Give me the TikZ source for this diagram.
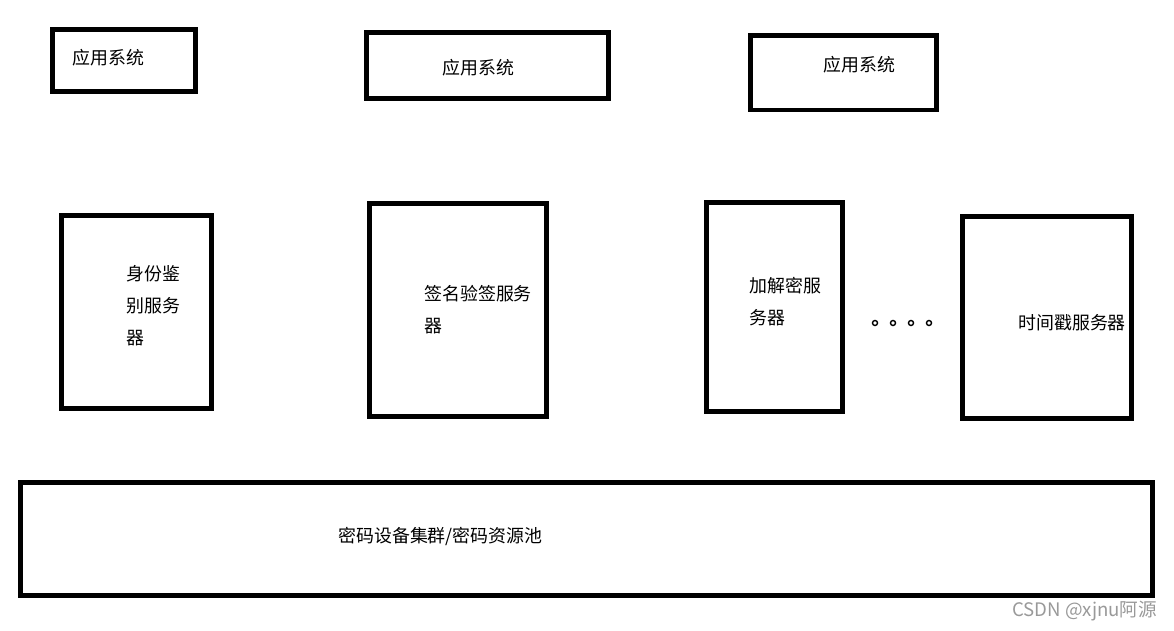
\documentclass[tikz,border=0pt]{standalone}
\usepackage{fontspec}
\newfontfamily\cjk{Noto Sans CJK SC}
\usetikzlibrary{positioning}

\begin{document}
\begin{tikzpicture}[
  x=0.02cm, y=-0.02cm,
  box/.style={draw, line width=2.8pt, rectangle, inner sep=0pt},
  lbl/.style={anchor=west, inner sep=0pt, align=left,
    font=\cjk\fontsize{10.2pt}{18.2pt}\selectfont},
  dot/.style={draw, circle, line width=0.8pt, minimum size=0.1cm, inner sep=0pt}
]
\useasboundingbox (0,0) rectangle (1174,631);

% application systems
\node[box, minimum width=2.86cm, minimum height=1.24cm] (app1) at (124,60.5) {};
\node[box, minimum width=4.84cm, minimum height=1.32cm] (app2) at (487.5,65.5) {};
\node[box, minimum width=3.72cm, minimum height=1.49cm] (app3) at (843.5,72.75) {};
\node[lbl] (app1t) at (72,58) {应用系统};
\node[lbl] (app2t) at (442,68) {应用系统};
\node[lbl] (app3t) at (823,65) {应用系统};

% servers
\node[box, minimum width=3.00cm, minimum height=3.86cm] (auth) at (136.5,312) {};
\node[box, minimum width=3.54cm, minimum height=4.26cm] (sign) at (458,310) {};
\node[box, minimum width=2.72cm, minimum height=4.18cm] (crypt) at (774.5,307) {};
\node[box, minimum width=3.38cm, minimum height=4.04cm] (tsa) at (1047,317.5) {};

\node[lbl] (autht) at (126,306) {身份鉴\\别服务\\器};
\node[lbl] (signt) at (424,309.5) {签名验签服务\\器};
\node[lbl] (cryptt) at (749,302) {加解密服\\务器};
\node[lbl] (tsat) at (1018,323) {时间戳服务器};

\node[dot] (d1) at (875,323) {};
\node[dot] (d2) at (893,323) {};
\node[dot] (d3) at (911,323) {};
\node[dot] (d4) at (929,323) {};

% resource pool
\node[box, minimum width=22.64cm, minimum height=2.26cm] (pool) at (586.5,539) {};
\node[lbl] (poolt) at (338,536) {密码设备集群/密码资源池};

\node[anchor=west, inner sep=0pt, text=black!40,
  font=\cjk\fontsize{10.6pt}{12pt}\selectfont] (mark) at (1012,611) {CSDN @xjnu阿源};

\end{tikzpicture}
\end{document}
